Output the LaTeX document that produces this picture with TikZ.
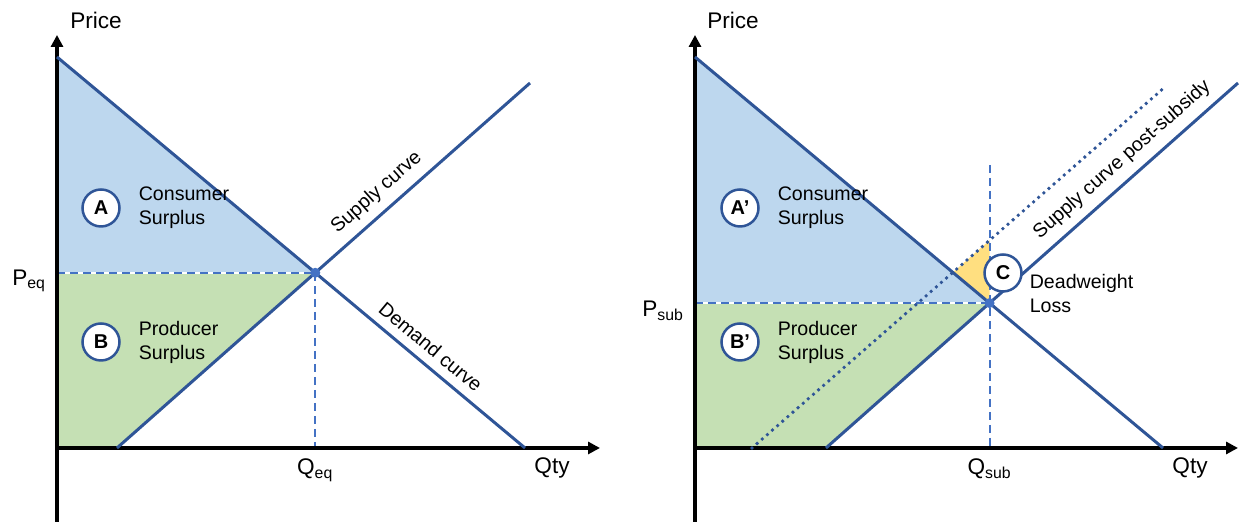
\documentclass[tikz,border=0pt]{standalone}
\usepackage{fontspec}
\setmainfont{Liberation Sans}
\usepackage{tikz}
\usetikzlibrary{arrows.meta,positioning,calc}

\definecolor{curveblue}{HTML}{2F5597}
\definecolor{guideblue}{HTML}{4472C4}
\definecolor{csfill}{HTML}{BDD7EE}
\definecolor{psfill}{HTML}{C5E0B4}
\definecolor{dwlfill}{HTML}{FFDF80}

\begin{document}
\begin{tikzpicture}[x=0.5pt, y=0.5pt, font=\fontsize{9.8}{12}\selectfont]
    \tikzset{
        axis/.style={line width=2pt, -{Triangle[length=6pt,width=6pt]}},
        curve/.style={draw=curveblue, line width=1.5pt},
        guide/.style={draw=guideblue, line width=1pt, dash pattern=on 4pt off 2.5pt},
        shifted/.style={draw=curveblue, line width=1.9pt, line cap=round, dash pattern=on 0pt off 3.4pt},
        tag/.style={circle, draw=curveblue, line width=1.25pt, fill=white, minimum size=18.5pt,
                inner sep=0pt, font=\fontsize{10}{12}\selectfont\bfseries},
        axlabel/.style={font=\fontsize{11.3}{13}\selectfont},
        area/.style={align=left, anchor=west}
    }
    \useasboundingbox (-57,-74) rectangle (1182,448);

    % Market without subsidy
    \begin{scope}
        \coordinate (O) at (0,0);
        \coordinate (D0) at (0,391);
        \coordinate (D1) at (468,0);
        \coordinate (S0) at (60,0);
        \coordinate (S1) at (473,365);
        \coordinate (E) at (intersection of D0--D1 and S0--S1);
        \coordinate (PE) at (O |- E);
        \coordinate (QE) at (O -| E);

        \fill[csfill] (D0) -- (E) -- (PE) -- cycle;
        \fill[psfill] (PE) -- (E) -- (S0) -- (O) -- cycle;
        \draw[white, line width=1.2pt] (PE) -- (E);
        \draw[guide] (PE) -- (E);
        \draw[guide] (E) -- (QE);

        \draw[axis] (0,-74) -- (0,413);
        \draw[axis] (O) -- (543,0);

        \draw[curve] (D0) -- (D1) node[pos=0.775, sloped, above=1pt] {Demand curve};
        \draw[curve] (S0) -- (S1) node[pos=0.66, sloped, above=1pt] {Supply curve};
        \fill[guideblue] (E) circle (5);

        \node[tag] (A) at (44,240) {A};
        \node[area, right=5.5pt of A] {Consumer\\Surplus};
        \node[tag] (B) at (44,106) {B};
        \node[area, right=5.5pt of B] {Producer\\Surplus};

        \node[axlabel] (price) at (39,428) {Price};
        \node[axlabel] (qty) at (495,-20) {Qty};
        \node[axlabel, below=2pt of QE] (qeq) {Q\textsubscript{eq}};
        \node[axlabel, left=2pt of PE, yshift=-4pt] (peq) {P\textsubscript{eq}};
    \end{scope}

    % Market after the subsidy
    \begin{scope}[xshift=319pt]
        \coordinate (O2) at (0,0);
        \coordinate (Dtop) at (0,391);
        \coordinate (Dbot) at (468,0);
        \coordinate (S2a) at (131,0);
        \coordinate (S2b) at (543,365);
        \coordinate (T0) at (57,0);
        \coordinate (T1) at (470,361);
        \coordinate (E2) at (intersection of Dtop--Dbot and S2a--S2b);
        \coordinate (PS) at (O2 |- E2);
        \coordinate (QS) at (O2 -| E2);
        \coordinate (Vtop) at (E2 |- 0,283);
        \coordinate (F) at (intersection of Dtop--Dbot and T0--T1);
        \coordinate (G) at (intersection of QS--Vtop and T0--T1);

        \fill[csfill] (Dtop) -- (E2) -- (PS) -- cycle;
        \fill[psfill] (PS) -- (E2) -- (S2a) -- (O2) -- cycle;
        \fill[dwlfill] (F) -- (G) -- (E2) -- cycle; % deadweight loss
        \draw[white, line width=1.2pt] (PS) -- (E2);
        \draw[guide] (PS) -- (E2);
        \draw[guide] (Vtop) -- (QS);

        \draw[axis] (0,-74) -- (0,413);
        \draw[axis] (O2) -- (543,0);

        \draw[shifted] (T0) -- (T1);
        \draw[curve] (Dtop) -- (Dbot);
        \draw[curve] (S2a) -- (S2b) node[pos=0.75, sloped, above=1pt] {Supply curve post-subsidy};
        \fill[guideblue] (E2) circle (5);

        \node[tag] (A2) at (45,240) {A’};
        \node[area, right=5.5pt of A2] {Consumer\\Surplus};
        \node[tag] (B2) at (45,106) {B’};
        \node[area, right=5.5pt of B2] {Producer\\Surplus};
        \node[tag] (C) at (308,175) {C};
        \node[area, right=0pt of C, yshift=-10.5pt] {Deadweight\\Loss};

        \node[axlabel] (price2) at (38,428) {Price};
        \node[axlabel] (qty2) at (495,-20) {Qty};
        \node[axlabel, below=2pt of QS] (qsub) {Q\textsubscript{sub}};
        \node[axlabel, left=2pt of PS, yshift=-4pt] (psub) {P\textsubscript{sub}};
    \end{scope}
\end{tikzpicture}
\end{document}
